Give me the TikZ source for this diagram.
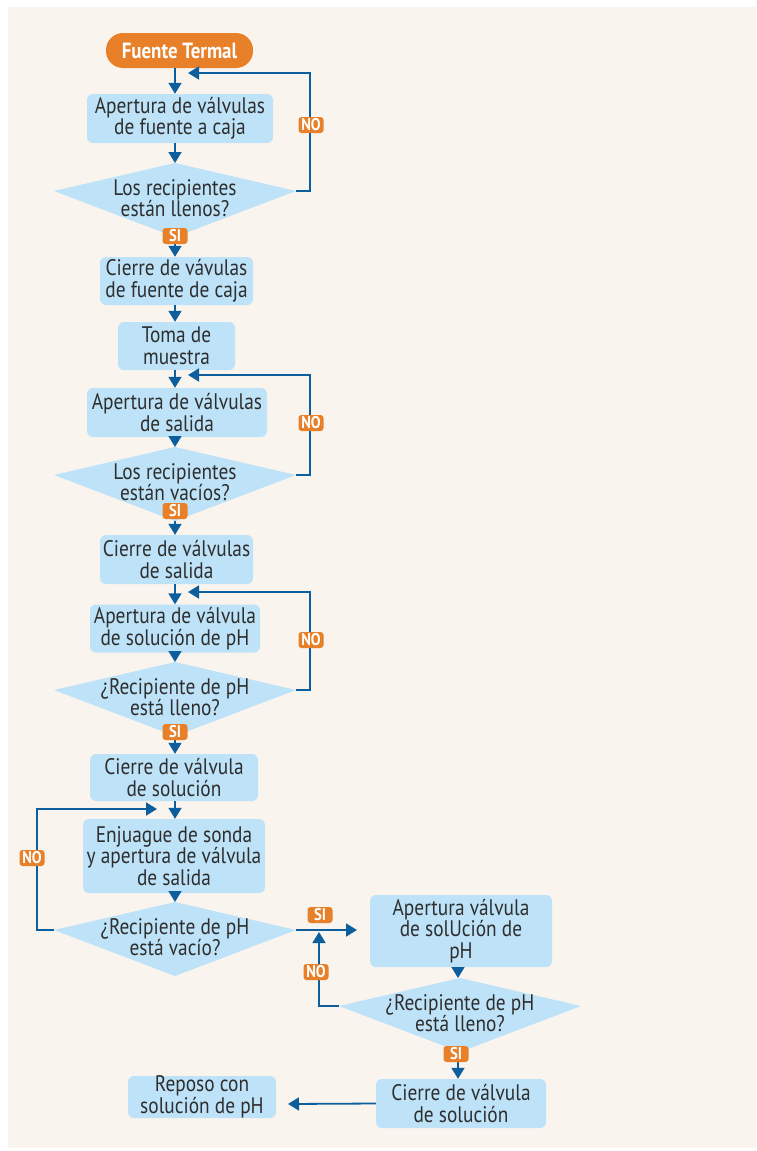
\documentclass[tikz,border=0pt]{standalone}
\usepackage{fontspec}
\newfontfamily\flowfont{PT Sans}[FakeStretch=0.86]
\usetikzlibrary{arrows.meta}

\definecolor{paper}{HTML}{F9F4EE}
\definecolor{boxblue}{HTML}{BEE3F8}
\definecolor{flowblue}{HTML}{0D5E9C}
\definecolor{tagorange}{HTML}{E8802A}
\definecolor{inkgray}{HTML}{2E2E2E}

% decision kite: name, centre x, top y, text
\newcommand{\kite}[4]{%
  \fill[boxblue] (#2,#3) coordinate (#1-t) -- (#2+121,#3+28) coordinate (#1-r)
    -- (#2,#3+74) coordinate (#1-b) -- (#2-121,#3+28) coordinate (#1-l) -- cycle;
  \node[txt] (#1) at (#2,#3+35) {#4};}

\begin{document}
\begin{tikzpicture}[x=1pt, y=-1pt,
    txt/.style={align=center, text=inkgray, inner sep=0pt,
      font=\flowfont\fontsize{22.5}{21.5}\selectfont},
    box/.style={txt, rectangle, rounded corners=6pt, fill=boxblue},
    tag/.style={fill=tagorange, text=white, rounded corners=3pt, inner sep=0pt,
      minimum width=25pt, minimum height=16pt,
      font=\flowfont\bfseries\fontsize{17}{17}\selectfont},
    flow/.style={draw=flowblue, line width=1.8pt, -{Triangle[width=13pt,length=11pt]}}]

    % page and paper
    \fill[white] (0,0) rectangle (756,1151);
    \useasboundingbox (0,0) rectangle (756,1151);
    \fill[paper] (8,7) rectangle (756,1148);

    % spines for the arrows
    \coordinate (ax) at (175,0);
    \coordinate (bx) at (458,0);

    % start
    \node[fill=tagorange, text=white, rounded corners=17pt, inner sep=0pt,
      minimum width=147pt, minimum height=35pt,
      font=\flowfont\bfseries\fontsize{22}{22}\selectfont] (ft) at (179.5,50.5) {Fuente Termal};

    % left column
    \node[box, minimum width=186pt, minimum height=49pt] (b1) at (180,118.5) {Apertura de válvulas\\de fuente a caja};
    \kite{d1}{175}{163}{Los recipientes\\están llenos?}
    \node[box, minimum width=153pt, minimum height=48pt] (b2) at (176.5,281) {Cierre de vávulas\\de fuente de caja};
    \node[box, minimum width=117pt, minimum height=48pt] (b3) at (176.5,346) {Toma de\\muestra};
    \node[box, minimum width=180pt, minimum height=49pt] (b4) at (177,412.5) {Apertura de válvulas\\de salida};
    \kite{d2}{175}{447}{Los recipientes\\están vacíos?}
    \node[box, minimum width=153pt, minimum height=49pt] (b5) at (176.5,559.5) {Cierre de válvulas\\de salida};
    \node[box, minimum width=170pt, minimum height=48pt] (b6) at (175,628.5) {Apertura de válvula\\de solución de pH};
    \kite{d3}{175}{662}{¿Recipiente de pH\\está lleno?}
    \node[box, minimum width=168pt, minimum height=47pt] (b7) at (174,777.5) {Cierre de válvula\\de solución};
    \node[box, minimum width=182pt, minimum height=74pt] (b8) at (174,856) {Enjuague de sonda\\y apertura de válvula\\de salida};
    \kite{d4}{175}{902}{¿Recipiente de pH\\está vacío?}

    % right column
    \node[box, minimum width=182pt, minimum height=72pt] (b9) at (461,931) {Apertura válvula\\de solUción de\\pH};
    \kite{d5}{460}{978}{¿Recipiente de pH\\está lleno?}
    \node[box, minimum width=170pt, minimum height=49pt] (b10) at (461,1103.5) {Cierre de válvula\\de solución};
    \node[box, minimum width=148pt, minimum height=42pt] (b11) at (202,1097) {Reposo con\\solución de pH};

    % loose ends of the arrows
    \coordinate (j1) at (188,73);
    \coordinate (j2) at (188,375);
    \coordinate (j3) at (188,592);
    \coordinate (j4) at (157,809);
    \coordinate (j5) at (357,930);
    \coordinate (j6) at (319,932);
    \coordinate (j7) at (288,1104);

    % main flow
    \draw[flow] (ft.south -| ax) -- (b1.north -| ax);
    \draw[flow] (b1.south -| ax) -- (d1-t);
    \draw[flow] (d1-b) -- (b2.north -| ax);
    \draw[flow] (b2.south -| ax) -- (b3.north -| ax);
    \draw[flow] (b3.south -| ax) -- (b4.north -| ax);
    \draw[flow] (b4.south -| ax) -- (d2-t);
    \draw[flow] (d2-b) -- (b5.north -| ax);
    \draw[flow] (b5.south -| ax) -- (b6.north -| ax);
    \draw[flow] (b6.south -| ax) -- (d3-t);
    \draw[flow] (d3-b) -- (b7.north -| ax);
    \draw[flow] (b7.south -| ax) -- (b8.north -| ax);
    \draw[flow] (b8.south -| ax) -- (d4-t);
    \draw[flow] (d4-r) -- (j5);
    \draw[flow] (b9.south -| bx) -- (d5-t -| bx);
    \draw[flow] (d5-b -| bx) -- (b10.north -| bx);
    \draw[flow] (b10.west) -- (j7);

    % loops back
    \draw[flow] (d1-r) -- ++(14,0) |- (j1);
    \draw[flow] (d2-r) -- ++(14,0) |- (j2);
    \draw[flow] (d3-r) -- ++(14,0) |- (j3);
    \draw[flow] (d4-l) -- ++(-17,0) |- (j4);
    \draw[flow] (d5-l) -| (j6);

    % yes / no tags
    \node[tag] (no1) at (311,125) {NO};
    \node[tag] (no2) at (311,423) {NO};
    \node[tag] (no3) at (311,640) {NO};
    \node[tag] (no4) at (32,858) {NO};
    \node[tag] (no5) at (316,972) {NO};
    \node[tag] (si1) at (175,236) {SI};
    \node[tag] (si2) at (175,511) {SI};
    \node[tag] (si3) at (175,732) {SI};
    \node[tag] (si4) at (320,915) {SI};
    \node[tag] (si5) at (456,1054) {SI};
\end{tikzpicture}
\end{document}
